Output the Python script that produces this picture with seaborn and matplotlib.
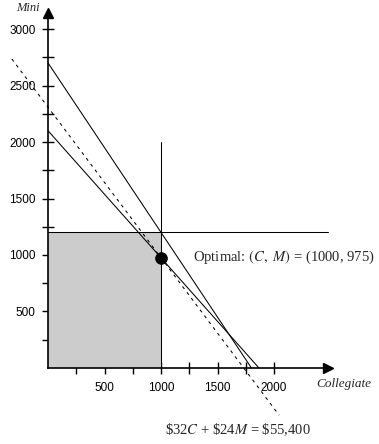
import numpy as np
import pandas as pd
import matplotlib
matplotlib.use("Agg")
import matplotlib.pyplot as plt
import seaborn as sns

# data
box_c = [0, 1000]
box_m = [0, 1200]
line1_c = [0, 1800]
line1_m = [2700, 0]
line2_c = [0, 1866.7]
line2_m = [2100, 0]
vcap_c = [1000, 1000]
vcap_m = [0, 2000]
hcap_c = [0, 2480]
hcap_m = [1200, 1200]
iso_c = [-320, 2045]
iso_m = [2735, -418]
opt_c = [1000]
opt_m = [975]
x_major = [500, 1000, 1500, 2000]
x_minor = [250, 750, 1250, 1750]
y_major = [500, 1000, 1500, 2000, 2500, 3000]
y_minor = [250, 750, 1250, 1750, 2250, 2750]

sns.set_theme(style="white")
plt.rcParams['font.family'] = ['Liberation Sans', 'DejaVu Sans']

fig = plt.figure(figsize=(3.79, 4.44), dpi=100)
ax = fig.add_axes([0, 0, 1, 1])
ax.set_xlim(-425, 2929)
ax.set_ylim(-673, 3257)

ax.fill_between(box_c, box_m[0], box_m[1], color="#cccccc", lw=0, zorder=1)

lw = 0.75
sns.lineplot(x=line1_c, y=line1_m, ax=ax, color="black", lw=lw, sort=False, estimator=None)
sns.lineplot(x=line2_c, y=line2_m, ax=ax, color="black", lw=lw, sort=False, estimator=None)
sns.lineplot(x=vcap_c, y=vcap_m, ax=ax, color="black", lw=lw, sort=False, estimator=None)
sns.lineplot(x=hcap_c, y=hcap_m, ax=ax, color="black", lw=lw, sort=False, estimator=None)
sns.lineplot(x=iso_c, y=iso_m, ax=ax, color="black", lw=lw, sort=False, estimator=None)
ax.lines[-1].set_dashes([3, 4])
sns.scatterplot(x=opt_c, y=opt_m, ax=ax, color="black", s=70, edgecolor="black", zorder=5)

# axes through origin with arrow heads
for s in ["top", "right"]:
    ax.spines[s].set_visible(False)
ax.spines["left"].set_position(("data", 0))
ax.spines["bottom"].set_position(("data", 0))
ax.spines["left"].set_bounds(0, 3140)
ax.spines["bottom"].set_bounds(0, 2480)
for s in ["left", "bottom"]:
    ax.spines[s].set_linewidth(1.2)
    ax.spines[s].set_color("black")
ax.plot([0], [3140], marker="^", color="black", ms=7, clip_on=False, zorder=6)
ax.plot([2480], [0], marker=">", color="black", ms=7, clip_on=False, zorder=6)

ax.set_xticks(x_major)
ax.set_xticks(x_minor, minor=True)
ax.set_yticks(y_major)
ax.set_yticks(y_minor, minor=True)
ax.tick_params(which="both", direction="inout", length=8, width=1, color="black",
               labelsize=8.5, labelcolor="black", bottom=True, left=True)
ax.tick_params(axis="x", pad=6)
ax.tick_params(axis="y", pad=5)

serif = ['Liberation Serif', 'DejaVu Serif']
ax.text(-177, 3186, "Mini", family=serif, style="italic", fontsize=9, ha="center", va="center")
ax.text(2620, -142, "Collegiate", family=serif, style="italic", fontsize=9.5, ha="center", va="center")
ax.text(1283, 982, "Optimal: $(C,\\ M)$ = (1000, 975)", family=serif, fontsize=10.5, ha="left", va="center",
        math_fontfamily="stix")
ax.text(1681, -549, "\\$32$C$ + \\$24$M$ = \\$55,400", family=serif, fontsize=10.5, ha="center", va="center",
        math_fontfamily="stix")

fig.savefig("out.png", dpi=100)
